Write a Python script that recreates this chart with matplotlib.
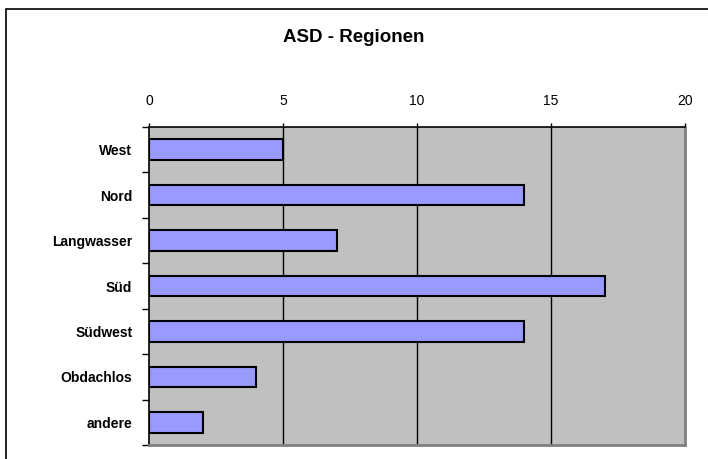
import matplotlib
matplotlib.use("Agg")
import matplotlib.pyplot as plt
import numpy as np
from matplotlib.patches import Rectangle

plt.rcParams['font.family'] = ['Liberation Sans', 'DejaVu Sans']

regions = ["West", "Nord", "Langwasser", "Süd", "Südwest", "Obdachlos", "andere"]
counts = [5, 14, 7, 17, 14, 4, 2]
x_ticks = [0, 5, 10, 15, 20]

fig = plt.figure(figsize=(7.08, 4.59), dpi=100)

# outer chart frame
fig.patches.append(Rectangle((6 / 708, -0.1), 1.2, 1 - 9 / 459 + 0.1,
                             transform=fig.transFigure, fill=False,
                             edgecolor='black', linewidth=1.2, zorder=0))

ax = fig.add_axes([149 / 708, 1 - 445 / 459, (685 - 149) / 708, (445 - 127) / 459])
ax.set_facecolor('#c0c0c0')

y = np.arange(len(regions))
ax.barh(y, counts, height=0.455, color='#9999ff', edgecolor='black',
        linewidth=1.5, zorder=3)

ax.set_xlim(0, 20)
ax.set_ylim(len(regions) - 0.5, -0.5)
ax.set_xticks(x_ticks)
ax.set_xticklabels([str(t) for t in x_ticks], fontsize=10)
ax.xaxis.tick_top()
ax.tick_params(axis='x', length=3, width=1, direction='out', pad=11, color='black')
for t in x_ticks[1:-1]:
    ax.axvline(t, color='black', linewidth=1, zorder=1)

ax.set_yticks(y)
ax.set_yticklabels(regions, fontsize=10, fontweight='bold')
ax.tick_params(axis='y', which='major', length=0, pad=12)
ax.set_yticks(np.arange(-0.5, len(regions)), minor=True)
ax.tick_params(axis='y', which='minor', length=5, width=1, direction='out', color='black')

for side in ('left', 'top'):
    ax.spines[side].set_color('black')
    ax.spines[side].set_linewidth(1.2)
for side in ('right', 'bottom'):
    ax.spines[side].set_color('#808080')
    ax.spines[side].set_linewidth(2)

fig.text(0.5, 1 - 38 / 459, "ASD - Regionen", ha='center', va='center',
         fontsize=13.5, fontweight='bold')

fig.savefig("out.png", dpi=100)
